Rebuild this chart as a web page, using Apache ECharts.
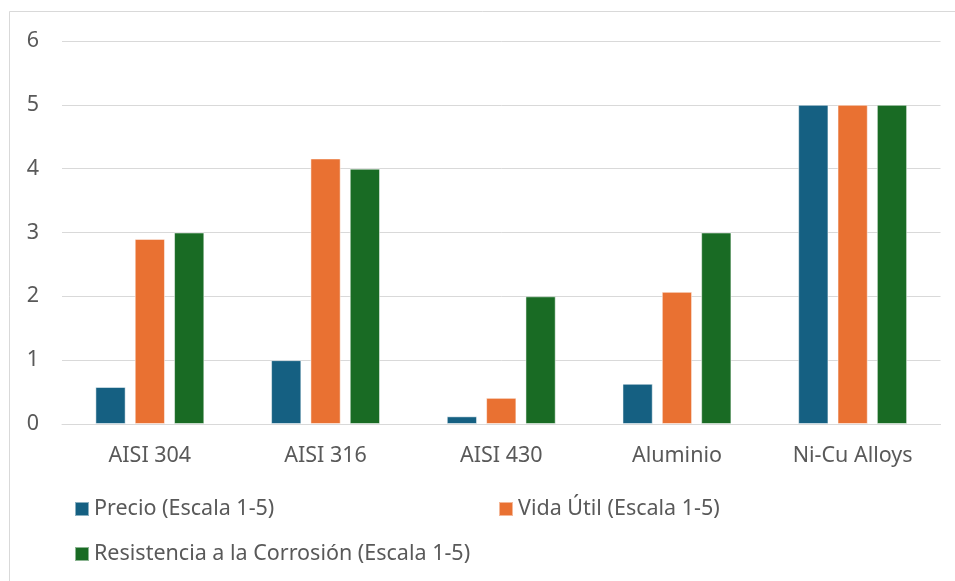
<!DOCTYPE html>
<html>
<head>
<meta charset="utf-8">
<script src="https://cdn.jsdelivr.net/npm/echarts@6/dist/echarts.min.js"></script>
<style>
  html, body { margin: 0; padding: 0; background: #fff; }
  #chart { width: 955px; height: 581px; }
</style>
</head>
<body>
<div id="chart"></div>
<script>
// Material comparison scores (scale 1-5)
const categories = ['AISI 304', 'AISI 316', 'AISI 430', 'Aluminio', 'Ni-Cu Alloys'];
const precio = [0.58, 1.0, 0.12, 0.63, 5];
const vidaUtil = [2.9, 4.16, 0.41, 2.07, 5];
const resistencia = [3, 4, 2, 3, 5];
const seriesNames = ['Precio (Escala 1-5)', 'Vida Útil (Escala 1-5)', 'Resistencia a la Corrosión (Escala 1-5)'];
const colors = ['#156082', '#E97132', '#196B24'];

const FONT = '"Noto Sans", "Liberation Sans", sans-serif';
const TEXT = '#595959';
const FS = 21.5;

const chart = echarts.init(document.getElementById('chart'), null, { renderer: 'canvas' });

function barSeries(name, data, color) {
  return {
    name: name,
    type: 'bar',
    data: data,
    barGap: '30%',
    barCategoryGap: '38%',
    itemStyle: { color: color, borderColor: 'rgba(255,255,255,0.5)', borderWidth: 1 },
    emphasis: { disabled: true }
  };
}

function legendAt(name, left, top) {
  return {
    data: [name],
    left: left,
    top: top,
    itemWidth: 14,
    itemHeight: 14,
    itemGap: 0,
    icon: 'rect',
    padding: 0,
    textStyle: { color: TEXT, fontSize: FS, fontFamily: FONT, padding: [0, 0, 0, 0] }
  };
}

chart.setOption({
  animation: false,
  backgroundColor: '#fff',
  color: colors,
  graphic: [{
    type: 'rect',
    shape: { x: 9.5, y: 11.5, width: 980, height: 620 },
    style: { fill: 'none', stroke: '#D9D9D9', lineWidth: 1 },
    silent: true
  }],
  grid: { left: 62, right: 14.5, top: 41, bottom: 157, containLabel: false },
  legend: [
    legendAt(seriesNames[0], 74, 498),
    legendAt(seriesNames[1], 498, 498),
    legendAt(seriesNames[2], 74, 543)
  ],
  xAxis: {
    type: 'category',
    data: categories,
    axisLine: { show: true, lineStyle: { color: '#D9D9D9', width: 1 } },
    axisTick: { show: false },
    axisLabel: { color: TEXT, fontSize: FS, fontFamily: FONT, margin: 21 }
  },
  yAxis: {
    type: 'value',
    min: 0,
    max: 6,
    interval: 1,
    axisLine: { show: false },
    axisTick: { show: false },
    splitLine: { lineStyle: { color: '#D9D9D9', width: 1 } },
    axisLabel: { color: TEXT, fontSize: FS, fontFamily: FONT, margin: 23 }
  },
  series: [
    barSeries(seriesNames[0], precio, colors[0]),
    barSeries(seriesNames[1], vidaUtil, colors[1]),
    barSeries(seriesNames[2], resistencia, colors[2])
  ]
});
</script>
</body>
</html>
